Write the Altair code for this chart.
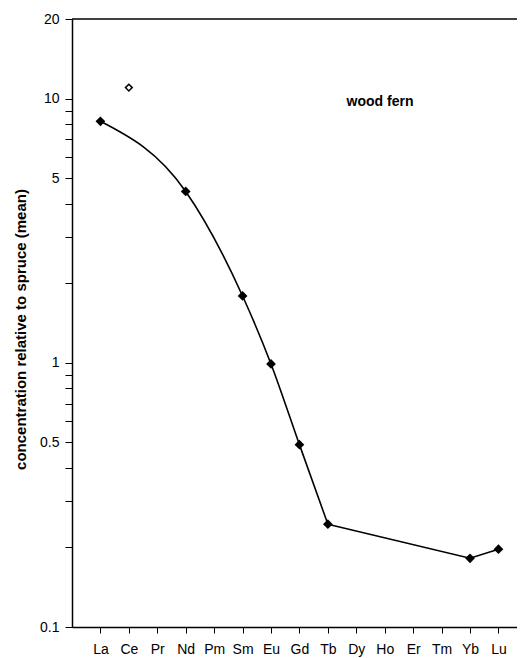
import altair as alt
import pandas as pd

elements = ["La", "Ce", "Pr", "Nd", "Pm", "Sm", "Eu", "Gd", "Tb", "Dy", "Ho", "Er", "Tm", "Yb", "Lu"]
filled_el = ["La", "Nd", "Sm", "Eu", "Gd", "Tb", "Yb", "Lu"]
filled_val = [8.2, 4.45, 1.79, 0.99, 0.49, 0.245, 0.182, 0.197]
open_el = ["Ce"]
open_val = [11.0]
y_ticks = [0.1, 0.2, 0.3, 0.4, 0.5, 0.6, 0.7, 0.8, 0.9, 1, 2, 3, 4, 5, 6, 7, 8, 9, 10, 20]
y_labels = [0.1, 0.5, 1, 5, 10, 20]
y_top = 20
annotation = "wood fern"
y_title = "concentration relative to spruce (mean)"

df_f = pd.DataFrame({"el": filled_el, "v": filled_val})
df_curve = df_f.iloc[:6]
df_tail = df_f.iloc[5:]
df_o = pd.DataFrame({"el": open_el, "v": open_val})
df_t = pd.DataFrame({"t": [annotation], "v": [10]})

FONT = "Liberation Sans"

x_enc = alt.X(
    "el:N",
    scale=alt.Scale(type="point", domain=elements, padding=0.826, align=0.605),
    axis=alt.Axis(
        title=None, labelAngle=0, tickSize=6, labelPadding=9, labelFontSize=14,
        labelFont=FONT, grid=False, domainWidth=1.5, tickWidth=1,
    ),
)
y_scale = alt.Scale(type="log", domain=[0.1, 20], nice=False)
label_list = ",".join(str(v) for v in y_labels)
y_enc = alt.Y(
    "v:Q",
    scale=y_scale,
    axis=alt.Axis(
        title=y_title, values=y_ticks, format="~g",
        labelExpr=f"indexof([{label_list}], datum.value) >= 0 ? datum.label : ''",
        tickSize=7, labelPadding=6, labelFontSize=14, labelFont=FONT, grid=False,
        domainWidth=1.5, tickWidth=1, titleFont=FONT, titleFontSize=15,
        titleFontWeight="bold", titleX=-52, titleY=310, titleBaseline="middle",
        titleAngle=270,
    ),
)

top = alt.Chart(pd.DataFrame({"v": [y_top]})).mark_rule(color="black", strokeWidth=1.3).encode(
    y=alt.Y("v:Q", scale=y_scale)
)
curve = alt.Chart(df_curve).mark_line(color="black", strokeWidth=1.6, interpolate="monotone").encode(x=x_enc, y=y_enc)
tail = alt.Chart(df_tail).mark_line(color="black", strokeWidth=1.6).encode(x=x_enc, y=y_enc)
pts = alt.Chart(df_f).mark_point(shape="diamond", filled=True, size=95, color="black", opacity=1).encode(x=x_enc, y=y_enc)
opn = alt.Chart(df_o).mark_point(shape="diamond", filled=False, size=45, stroke="black", fill="white",
                                 strokeWidth=1.5, opacity=1).encode(x=x_enc, y=y_enc)
txt = alt.Chart(df_t).mark_text(font=FONT, fontSize=14, fontWeight="bold", color="black", dy=3).encode(
    x=alt.value(308), y=alt.Y("v:Q", scale=y_scale), text="t:N"
)

chart = alt.layer(top, curve, tail, pts, opn, txt).properties(
    width=445, height=608, autosize="none",
    padding={"left": 64, "top": 11, "right": 0, "bottom": 31},
).configure_view(stroke=None).configure_axis(
    domainColor="black", tickColor="black", labelColor="black", titleColor="black"
)

chart.save("out.html", embed_options={"renderer": "svg", "actions": False})
